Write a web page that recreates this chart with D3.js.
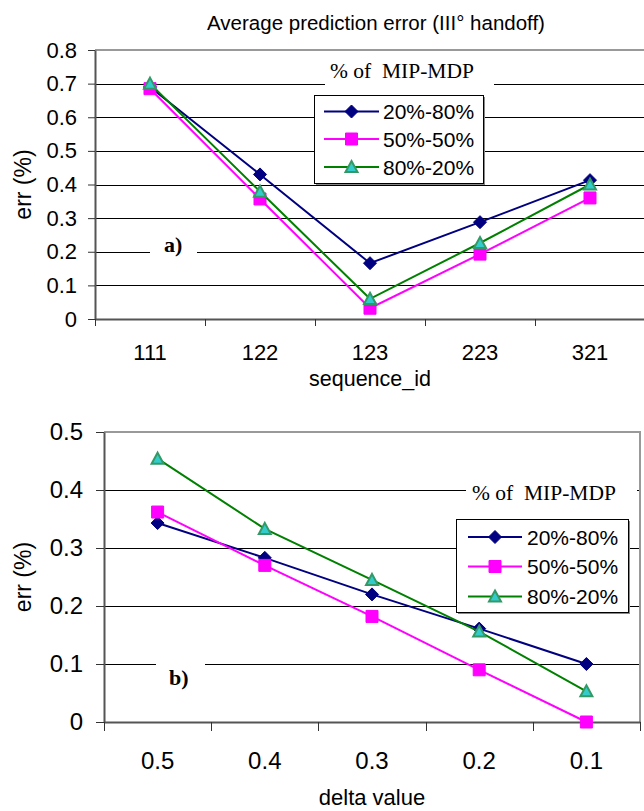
<!DOCTYPE html>
<html>
<head>
<meta charset="utf-8">
<script src="https://cdn.jsdelivr.net/npm/d3@7"></script>
<style>
  body { margin: 0; background: #fff; }
  svg { display: block; }
  text { font-family: "Liberation Sans", Arial, sans-serif; fill: #000; }
</style>
</head>
<body>
<div id="chart"></div>
<script>
// data
var seqIds = ["111", "122", "123", "223", "321"];
var errA_20_80 = [0.69, 0.43, 0.166, 0.288, 0.413];
var errA_50_50 = [0.685, 0.357, 0.032, 0.193, 0.36];
var errA_80_20 = [0.70, 0.379, 0.06, 0.226, 0.40];
var ticksA = [0, 0.1, 0.2, 0.3, 0.4, 0.5, 0.6, 0.7, 0.8];

var deltaValues = ["0.5", "0.4", "0.3", "0.2", "0.1"];
var errB_20_80 = [0.343, 0.283, 0.22, 0.161, 0.10];
var errB_50_50 = [0.362, 0.27, 0.182, 0.09, 0.0];
var errB_80_20 = [0.454, 0.333, 0.245, 0.156, 0.053];
var ticksB = [0, 0.1, 0.2, 0.3, 0.4, 0.5];

var seriesNames = ["20%-80%", "50%-50%", "80%-20%"];

var W = 644, H = 811;
var svg = d3.select("#chart").append("svg").attr("width", W).attr("height", H);

// marker shapes (Excel style)
var diamondSym = { draw: function(ctx, size) {
    var r = Math.sqrt(size) / 2;
    ctx.moveTo(0, -r); ctx.lineTo(r, 0); ctx.lineTo(0, r); ctx.lineTo(-r, 0); ctx.closePath();
}};
var squareSym = { draw: function(ctx, size) {
    var r = Math.sqrt(size) / 2;
    ctx.rect(-r, -r, 2 * r, 2 * r);
}};
var triangleSym = { draw: function(ctx, size) {
    var r = Math.sqrt(size) / 2;
    ctx.moveTo(0, -r); ctx.lineTo(r, r * 0.85); ctx.lineTo(-r, r * 0.85); ctx.closePath();
}};

var styles = [
    { line: "#000080", fill: "#000080", stroke: "#000080", sym: diamondSym, size: 13 * 13, sw: 1 },
    { line: "#ff00ff", fill: "#ff00ff", stroke: "#ff00ff", sym: squareSym, size: 12 * 12, sw: 1 },
    { line: "#008000", fill: "#33cccc", stroke: "#339966", sym: triangleSym, size: 12 * 12, sw: 2 }
];

var fmt = function(d) { return d === 0 ? "0" : d3.format(".1f")(d); };

function drawPanel(p) {
    var g = svg.append("g");
    var x = d3.scaleBand().domain(p.cats).range([p.left, p.right]);
    var y = d3.scaleLinear().domain([0, p.yMax]).range([p.bottom, p.top]);

    // gridlines
    g.selectAll(".grid").data(p.ticks.filter(function(d) { return d > 0 && d < p.yMax; }))
        .enter().append("line")
        .attr("x1", p.left).attr("x2", p.right)
        .attr("y1", function(d) { return Math.round(y(d)) + 0.5; })
        .attr("y2", function(d) { return Math.round(y(d)) + 0.5; })
        .attr("stroke", "#000").attr("stroke-width", 1);

    // plot border top / right
    g.append("path")
        .attr("d", "M" + p.left + "," + y(p.yMax) + "H" + p.right + "V" + p.bottom)
        .attr("fill", "none").attr("stroke", "#999").attr("stroke-width", 2);

    // y axis
    var ya = g.append("g").attr("transform", "translate(" + p.left + ",0)")
        .call(d3.axisLeft(y).tickValues(p.ticks).tickSizeInner(p.ytick).tickSizeOuter(0)
            .tickPadding(p.ypad).tickFormat(fmt));
    ya.select(".domain").attr("stroke", "#555").attr("stroke-width", 2);
    ya.selectAll(".tick line").attr("stroke", "#333");
    ya.selectAll("text").style("font-size", p.tickFont + "px").attr("font-family", null);

    // x axis labels
    var xa = g.append("g").attr("transform", "translate(0," + p.bottom + ")")
        .call(d3.axisBottom(x).tickSize(0).tickPadding(p.xpad));
    xa.select(".domain").attr("stroke", "#555").attr("stroke-width", 2);
    xa.selectAll("text").style("font-size", p.tickFont + "px").attr("font-family", null);
    // x tick marks on category boundaries
    g.selectAll(".xt").data(p.cats.map(function(c) { return x(c); }).concat([p.right]))
        .enter().append("line")
        .attr("x1", function(d) { return Math.round(d) + 0.5; })
        .attr("x2", function(d) { return Math.round(d) + 0.5; })
        .attr("y1", p.bottom).attr("y2", p.bottom + p.xtick)
        .attr("stroke", "#333");

    // axis titles
    g.append("text").attr("x", (p.left + p.right) / 2).attr("y", p.xTitleY)
        .attr("text-anchor", "middle").style("font-size", p.xTitleFont + "px").text(p.xTitle);
    g.append("text").attr("transform", "translate(" + p.yTitleX + "," + (p.top + p.bottom) / 2 + ") rotate(-90)")
        .attr("text-anchor", "middle").style("font-size", "23px").text("err (%)");

    // panel tag a) / b)
    g.append("rect").attr("x", p.tag.x0).attr("y", p.tag.y0)
        .attr("width", p.tag.x1 - p.tag.x0).attr("height", p.tag.y1 - p.tag.y0).attr("fill", "#fff");
    g.append("text").attr("x", p.tag.tx).attr("y", p.tag.ty)
        .style("font-family", "'Liberation Serif', 'Times New Roman', serif")
        .style("font-weight", "bold").style("font-size", "22px").text(p.tag.text);

    // series
    p.series.forEach(function(vals, i) {
        var st = styles[i];
        var pts = vals.map(function(v, j) { return [x(p.cats[j]) + x.bandwidth() / 2, y(v)]; });
        g.append("path").attr("d", d3.line()(pts))
            .attr("fill", "none").attr("stroke", st.line).attr("stroke-width", 2);
        g.selectAll(".m" + i).data(pts).enter().append("path")
            .attr("transform", function(d) { return "translate(" + d[0] + "," + d[1] + ")"; })
            .attr("d", d3.symbol().type(st.sym).size(st.size)())
            .attr("fill", st.fill).attr("stroke", st.stroke).attr("stroke-width", st.sw);
    });

    // legend caption
    var L = p.legend;
    g.append("rect").attr("x", L.capX0).attr("y", L.capY0)
        .attr("width", L.capX1 - L.capX0).attr("height", L.capY1 - L.capY0).attr("fill", "#fff");
    g.append("text").attr("x", L.capTx).attr("y", L.capTy)
        .style("font-family", "'Liberation Serif', 'Times New Roman', serif")
        .style("font-size", "21.5px").style("white-space", "pre").text("% of  MIP-MDP");

    // legend box
    g.append("rect").attr("x", L.x + 2).attr("y", L.y + 2).attr("width", L.w).attr("height", L.h)
        .attr("fill", "#888");
    g.append("rect").attr("x", L.x + 0.5).attr("y", L.y + 0.5).attr("width", L.w).attr("height", L.h)
        .attr("fill", "#fff").attr("stroke", "#000").attr("stroke-width", 1);
    seriesNames.forEach(function(name, i) {
        var st = styles[i];
        var ry = L.rows[i];
        g.append("line").attr("x1", L.lx0).attr("x2", L.lx1).attr("y1", ry).attr("y2", ry)
            .attr("stroke", st.line).attr("stroke-width", 2);
        g.append("path").attr("transform", "translate(" + (L.lx0 + L.lx1) / 2 + "," + ry + ")")
            .attr("d", d3.symbol().type(st.sym).size(st.size)())
            .attr("fill", st.fill).attr("stroke", st.stroke).attr("stroke-width", st.sw);
        g.append("text").attr("x", L.tx).attr("y", ry).attr("dy", "0.36em")
            .style("font-size", "21px").text(name);
    });
}

// chart title
svg.append("text").attr("x", 376).attr("y", 30).attr("text-anchor", "middle")
    .style("font-size", "20.5px").text("Average prediction error (III\u00b0 handoff)");

drawPanel({
    cats: seqIds, series: [errA_20_80, errA_50_50, errA_80_20], ticks: ticksA, yMax: 0.8,
    left: 95, right: 645, top: 50, bottom: 319,
    ytick: 7, ypad: 11, xtick: 7, xpad: 25, tickFont: 22, xTitleFont: 21.5,
    xTitle: "sequence_id", xTitleY: 386, yTitleX: 31,
    tag: { text: "a)", x0: 150, x1: 197, y0: 237, y1: 262, tx: 164, ty: 252 },
    legend: { x: 314, y: 95, w: 169, h: 88, rows: [111.5, 139, 167], lx0: 324, lx1: 379, tx: 383,
              capX0: 325, capX1: 494, capY0: 60, capY1: 92, capTx: 330, capTy: 78 }
});

drawPanel({
    cats: deltaValues, series: [errB_20_80, errB_50_50, errB_80_20], ticks: ticksB, yMax: 0.5,
    left: 104, right: 640, top: 432, bottom: 722,
    ytick: 8, ypad: 13, xtick: 9, xpad: 30, tickFont: 24, xTitleFont: 22,
    xTitle: "delta value", xTitleY: 805, yTitleX: 31,
    tag: { text: "b)", x0: 156, x1: 205, y0: 655, y1: 692, tx: 169, ty: 685 },
    legend: { x: 456, y: 519, w: 172, h: 93, rows: [537, 566.5, 596.5], lx0: 468, lx1: 522, tx: 527,
              capX0: 466, capX1: 637, capY0: 478, capY1: 508, capTx: 472, capTy: 500 }
});
</script>
</body>
</html>
